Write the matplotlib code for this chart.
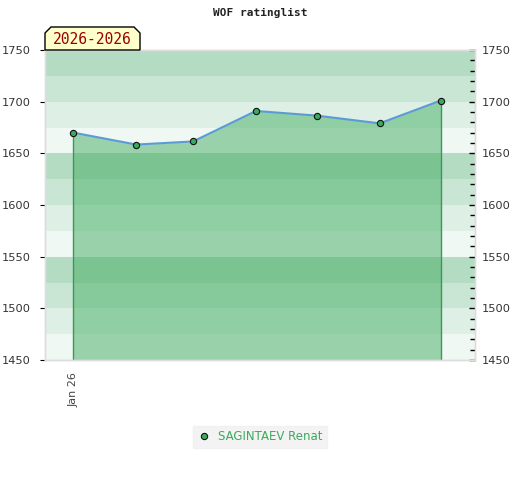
import matplotlib
matplotlib.use("Agg")
import matplotlib.pyplot as plt
import matplotlib.dates as mdates
from matplotlib.patches import Polygon
from matplotlib.ticker import MultipleLocator, FixedLocator
import numpy as np
import datetime as dt

title = "WOF ratinglist"
period_label = "2026-2026"
player = "SAGINTAEV Renat"
dates = ["2026-01-01", "2026-02-01", "2026-03-01", "2026-04-01",
         "2026-05-01", "2026-06-01", "2026-07-01"]
ratings = [1670, 1658.5, 1661.5, 1691, 1686.5, 1679, 1701]
y_min, y_max = 1450, 1750
x_tick_dates = ["2026-01-01"]
x_tick_labels = ["Jan 26"]
band_colors = ["#b3dcc3", "#c9e6d5", "#deefe5", "#f0f8f3"]  # from top of each 100 block

x = [dt.datetime.strptime(d, "%Y-%m-%d") for d in dates]
xn = mdates.date2num(x)

fig = plt.figure(figsize=(5.2, 4.8), dpi=100)
ax = fig.add_axes([45/520, 120/480, 430/520, 310/480])
ax.set_xlim(mdates.date2num(dt.datetime(2025, 12, 18)), mdates.date2num(dt.datetime(2026, 7, 18)))
ax.set_ylim(y_min, y_max)

# background bands (25-rating-point stripes)
edges = np.arange(y_min, y_max, 25)
for lo in edges:
    idx = int(((y_max - 25 - lo) // 25) % 4)
    ax.axhspan(lo, lo + 25, color=band_colors[idx], lw=0, zorder=0)

ax.fill_between(xn, ratings, y_min, color="#44ae63", alpha=0.5, lw=0, zorder=1)
ax.vlines([xn[0], xn[-1]], y_min, [ratings[0], ratings[-1]], color="#3a9a55", lw=1, zorder=2)
ax.plot(xn, ratings, color="#5b9bd5", lw=1.5, zorder=3)
ax.plot(xn, ratings, ls="none", marker="o", ms=4.5, mfc="#3aaa5c", mec="#111111", mew=0.8,
        zorder=4, label=player)

ax.xaxis.set_major_locator(FixedLocator(mdates.date2num(
    [dt.datetime.strptime(d, "%Y-%m-%d") for d in x_tick_dates])))
ax.set_xticklabels(x_tick_labels, rotation=90, fontsize=8, color="#444444")
ax.tick_params(axis="x", length=0, pad=9)

ax.yaxis.set_major_locator(MultipleLocator(50))
ax.tick_params(axis="y", which="both", left=False, right=False, labelleft=True, labelright=False,
               labelsize=8.2, labelcolor="#333333", pad=7)

ax2 = ax.twinx()
ax2.set_ylim(y_min, y_max)
ax2.yaxis.set_major_locator(MultipleLocator(50))
ax2.yaxis.set_minor_locator(MultipleLocator(10))
ax2.tick_params(axis="y", which="both", direction="in", labelsize=8.2, labelcolor="#333333", pad=5)
ax2.tick_params(axis="y", which="major", length=4, width=1)
ax2.tick_params(axis="y", which="minor", length=3.5, width=1)

for a in (ax, ax2):
    for s in a.spines.values():
        s.set_color("#dddddd")
        s.set_linewidth(1)

fig.text(260/520, 1 - 13/480, title, ha="center", va="center", fontsize=8,
         family="DejaVu Sans Mono", weight="bold", color="#222222")

# period label box with bevelled top corners
x0, x1, y0, y1 = 45, 140, 480 - 50, 480 - 27
c = 6
pts = [(x0, y0), (x0, y1 - c), (x0 + c, y1), (x1 - c, y1), (x1, y1 - c), (x1, y0)]
pts = [(px / 520, py / 480) for px, py in pts]
fig.patches.append(Polygon(pts, closed=True, transform=fig.transFigure,
                           facecolor="#ffffcc", edgecolor="black", lw=1, zorder=5))
fig.text((x0 + x1) / 2 / 520, (y0 + y1) / 2 / 480 - 0.002, period_label, ha="center", va="center",
         fontsize=10.5, family="DejaVu Sans Mono", color="#990000", zorder=6)

leg = fig.legend(loc="center", bbox_to_anchor=(260/520, 1 - 437/480), frameon=True,
                 fontsize=8.5, handletextpad=0.6, borderpad=0.35, handlelength=1.2,
                 fancybox=False)
leg.get_frame().set_facecolor("#f0f0f0")
leg.get_frame().set_edgecolor("#f0f0f0")
for t in leg.get_texts():
    t.set_color("#3aaa5c")

fig.savefig("out.png", dpi=100)
